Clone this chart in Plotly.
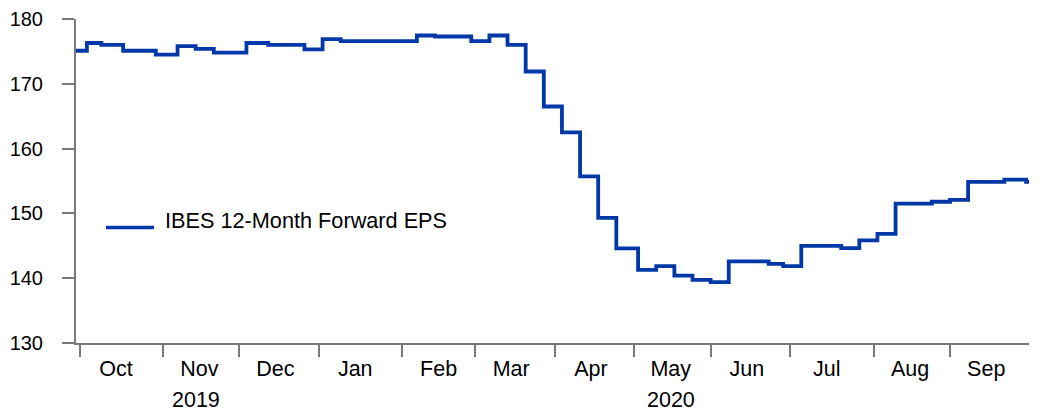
import numpy as np
import plotly.graph_objects as go

# ---- data (step changes) ----
dates = [
    "2019-09-30", "2019-10-03", "2019-10-09", "2019-10-17", "2019-10-30",
    "2019-11-07", "2019-11-14", "2019-11-21", "2019-12-04", "2019-12-12",
    "2019-12-26", "2020-01-02", "2020-01-09", "2020-02-07", "2020-02-14",
    "2020-02-28", "2020-03-06", "2020-03-13", "2020-03-20", "2020-03-27",
    "2020-04-03", "2020-04-10", "2020-04-17", "2020-04-24", "2020-05-04",
    "2020-05-11", "2020-05-18", "2020-05-25", "2020-06-01", "2020-06-08",
    "2020-06-23", "2020-06-29", "2020-07-06", "2020-07-21", "2020-07-28",
    "2020-08-04", "2020-08-11", "2020-08-25", "2020-09-01", "2020-09-08",
    "2020-09-22", "2020-09-30", "2020-10-05",
]
eps = [
    175.1, 176.3, 176.0, 175.1, 174.5,
    175.8, 175.4, 174.8, 176.3, 176.0,
    175.3, 176.9, 176.6, 177.45, 177.3,
    176.6, 177.45, 176.0, 171.9, 166.5,
    162.5, 155.7, 149.3, 144.6, 141.3,
    141.85, 140.4, 139.75, 139.4, 142.6,
    142.2, 141.85, 145.0, 144.65, 145.85,
    146.85, 151.5, 151.8, 152.1, 154.85,
    155.2, 154.85, 154.85,
]
series_name = "IBES 12-Month Forward EPS"

months = ["2019-10", "2019-11", "2019-12", "2020-01", "2020-02", "2020-03",
          "2020-04", "2020-05", "2020-06", "2020-07", "2020-08", "2020-09"]
month_labels = ["Oct", "Nov", "Dec", "Jan", "Feb", "Mar",
                "Apr", "May", "Jun", "Jul", "Aug", "Sep"]
year_labels = ["2019", "2020"]
year_label_dates = ["2019-11-14", "2020-05-15"]

y_ticks = [130, 140, 150, 160, 170, 180]

# ---- derived tick positions ----
month_first = [str(np.busday_offset(m + "-01", 0, roll="forward")) for m in months]
month_mid = [str(np.busday_offset(d, 10)) for d in month_first]

BLUE = "#0038A8"
AXIS = "#7a7a7a"
FONT = "Liberation Sans, Arial, sans-serif"

fig = go.Figure()
fig.add_trace(go.Scatter(
    x=dates, y=eps, mode="lines", name=series_name,
    line=dict(color=BLUE, width=3.8, shape="hv"),
    showlegend=False,
))

# legend sample (drawn manually to match the longer sample line)
fig.add_shape(type="line", xref="paper", yref="paper",
              x0=0.0312, x1=0.0812, y0=0.3564, y1=0.3564,
              line=dict(color=BLUE, width=3.5))
fig.add_annotation(text=series_name, xref="paper", yref="paper",
                   x=0.0905, y=0.379, xanchor="left", yanchor="middle",
                   showarrow=False, font=dict(size=21.7, color="#000000", family=FONT))

for lab, d in zip(year_labels, year_label_dates):
    fig.add_annotation(text=lab, x=d, xref="x", yref="paper", y=-0.176,
                       xanchor="center", yanchor="middle", showarrow=False,
                       font=dict(size=21.5, color="#000000", family=FONT))

# page body has an 8px margin, so the figure is 8px smaller than the window
fig.update_layout(
    width=1029, height=403,
    margin=dict(l=68, r=0, t=9, b=68),
    paper_bgcolor="white", plot_bgcolor="white",
    font=dict(family=FONT, color="#000000"),
    showlegend=False,
)
fig.update_xaxes(
    range=["2019-09-30", "2020-10-05"],
    rangebreaks=[dict(bounds=["sat", "mon"])],
    tickmode="array", tickvals=month_mid, ticktext=month_labels,
    ticks="outside", ticklen=0, tickcolor="rgba(0,0,0,0)",
    minor=dict(tickmode="array", tickvals=month_first, ticks="outside",
               ticklen=12, tickwidth=2, tickcolor=AXIS),
    showline=True, linecolor=AXIS, linewidth=2,
    showgrid=False, zeroline=False,
    tickfont=dict(size=21.5, family=FONT, color="#000000"),
    ticklabelstandoff=5,
    ticklabeloverflow="allow",
)
fig.update_yaxes(
    range=[130, 180], tickmode="array", tickvals=y_ticks,
    ticks="outside", ticklen=12, tickwidth=2, tickcolor=AXIS,
    showline=True, linecolor=AXIS, linewidth=2,
    showgrid=False, zeroline=False,
    tickfont=dict(size=20, family=FONT, color="#000000"),
    ticklabelstandoff=15,
    ticklabeloverflow="allow",
)

fig.write_html("out.html")
